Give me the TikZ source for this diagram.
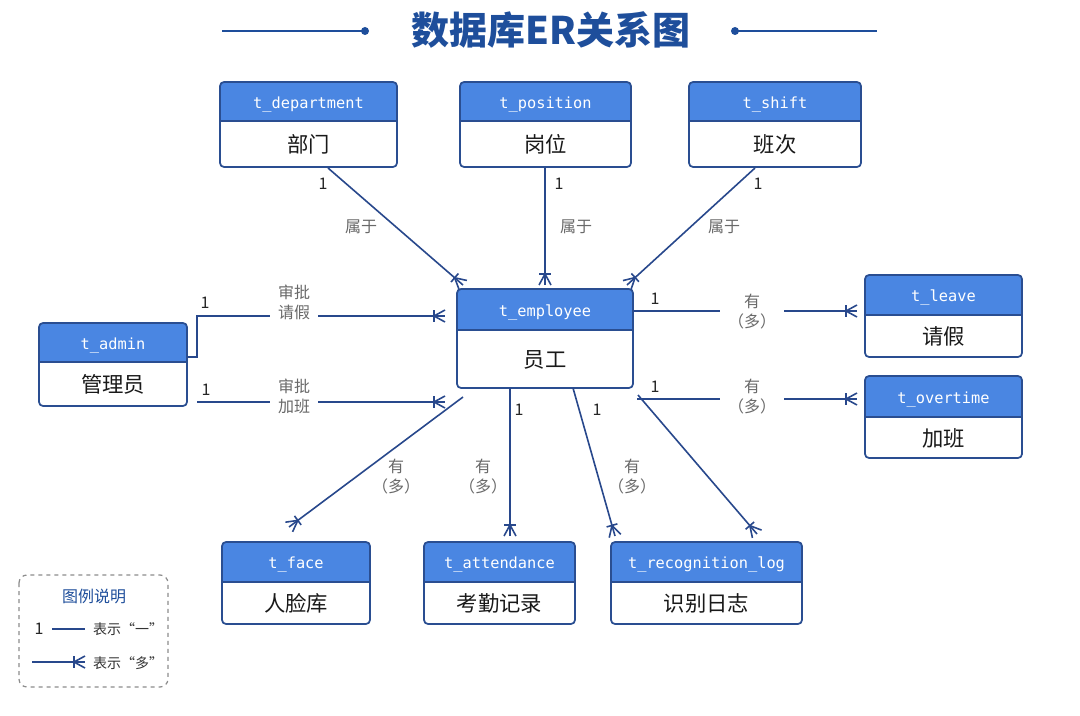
\documentclass[tikz,border=0pt]{standalone}
\usepackage{fontspec}
\setmainfont{Noto Sans CJK SC}
\newfontfamily\monof{DejaVu Sans Mono}
\usetikzlibrary{calc,fit}
\definecolor{hdr}{RGB}{74,134,226}
\definecolor{bd}{RGB}{42,78,145}
\definecolor{ln}{RGB}{40,72,140}
\definecolor{ttl}{RGB}{30,78,155}
\definecolor{gr}{RGB}{105,105,105}
\definecolor{lgd}{RGB}{140,140,140}
\tikzset{
 conn/.style={draw=ln, line width=1.2pt},
 htext/.style={font=\monof\fontsize{11.5}{13}\selectfont, text=white, inner sep=0pt},
 btext/.style={font=\fontsize{16}{18}\selectfont, text=black!90, inner sep=0pt},
 lbl/.style={font=\fontsize{12}{15}\selectfont, text=gr, align=center, inner sep=1pt},
 lblw/.style={lbl, fill=white, inner xsep=6pt},
 one/.style={font=\fontsize{12}{14}\selectfont, text=black!85, inner sep=0pt},
 ebox/.style={draw=bd, line width=1.3pt, rounded corners=3pt, inner sep=0pt},
}
\newcommand\entity[8]{%
 \fill[white, rounded corners=3pt] (#2,#3) rectangle (#4,#5);
 \fill[hdr, rounded corners=3pt] (#2,#3) rectangle (#4,#6);
 \fill[hdr] (#2,#6-8) rectangle (#4,#6);
 \draw[bd, line width=1.1pt] (#2,#6) -- (#4,#6);
 \node[ebox, fit={(#2,#3)(#4,#5)}] (#1) {};
 \node[htext] (#1-t) at ({(#2+#4)/2},{(#3+#6)/2+2.5}) {#7};
 \node[btext] (#1-l) at ({(#2+#4)/2},{(#6+#5)/2+0.5}) {#8};
}
\newcommand\crow[2]{%
 \coordinate (cfa) at ($(#2)!8.25pt!(#1)$);
 \draw[conn] ($(cfa)!4.2pt!90:(#1)$) -- ($(cfa)!4.2pt!-90:(#1)$);
 \draw[conn] ($(#2)!4.5pt!90:(#1)$) -- (cfa) -- ($(#2)!4.5pt!-90:(#1)$);
}
\begin{document}
\begin{tikzpicture}[x=0.75pt,y=-0.75pt]
\useasboundingbox (0,0) rectangle (1080,716);
\fill[white] (0,0) rectangle (1080,716);

% title
\node[font=\bfseries\fontsize{28.5}{32}\selectfont, text=ttl] (title) at (551,30) {数据库ER关系图};
\coordinate (tl1) at (222,31); \coordinate (tl2) at (365,31);
\coordinate (tr1) at (735,31); \coordinate (tr2) at (877,31);
\draw[ttl, line width=1.2pt] (tl1) -- (tl2);
\draw[ttl, line width=1.2pt] (tr1) -- (tr2);
\fill[ttl] (tl2) circle (4);
\fill[ttl] (tr1) circle (4);

% entities
\entity{dept}{220}{82}{397}{167}{121}{t\_department}{部门}
\entity{pos}{460}{82}{631}{167}{121}{t\_position}{岗位}
\entity{shift}{689}{82}{861}{167}{121}{t\_shift}{班次}
\entity{emp}{457}{289}{633}{388}{330}{t\_employee}{员工}
\entity{admin}{39}{323}{187}{406}{362}{t\_admin}{管理员}
\entity{leave}{865}{275}{1022}{357}{315}{t\_leave}{请假}
\entity{ot}{865}{376}{1022}{458}{417}{t\_overtime}{加班}
\entity{face}{222}{542}{370}{624}{582}{t\_face}{人脸库}
\entity{att}{424}{542}{575}{624}{582}{t\_attendance}{考勤记录}
\entity{rec}{611}{542}{802}{624}{582}{t\_recognition\_log}{识别日志}

% connector end points
\coordinate (c1a) at (328,168); \coordinate (c1b) at (463,285);
\coordinate (c2a) at (545,168); \coordinate (c2b) at (545,285);
\coordinate (c3a) at (755,168); \coordinate (c3b) at (627,285);
\coordinate (c4a) at (187,357); \coordinate (c4k) at (197,316); \coordinate (c4b) at (445,316);
\coordinate (c5a) at (197,402); \coordinate (c5b) at (445,402);
\coordinate (c6a) at (633,311); \coordinate (c6b) at (857,311);
\coordinate (c7a) at (637,399); \coordinate (c7b) at (857,399);
\coordinate (c8a) at (463,397); \coordinate (c8b) at (289,527);
\coordinate (c9a) at (510,388); \coordinate (c9b) at (510,536);
\coordinate (c10a) at (573,388); \coordinate (c10b) at (615,536);
\coordinate (c11a) at (638,395); \coordinate (c11b) at (757,534);

\draw[conn] (c1a) -- (c1b); \crow{c1a}{c1b}
\draw[conn] (c2a) -- (c2b); \crow{c2a}{c2b}
\draw[conn] (c3a) -- (c3b); \crow{c3a}{c3b}
\draw[conn] (c4a) -| (c4k) -- (c4b); \crow{c4k}{c4b}
\draw[conn] (c5a) -- (c5b); \crow{c5a}{c5b}
\draw[conn] (c6a) -- (c6b); \crow{c6a}{c6b}
\draw[conn] (c7a) -- (c7b); \crow{c7a}{c7b}
\draw[conn] (c8a) -- (c8b); \crow{c8a}{c8b}
\draw[conn] (c9a) -- (c9b); \crow{c9a}{c9b}
\draw[conn] (c10a) -- (c10b); \crow{c10a}{c10b}
\draw[conn] (c11a) -- (c11b); \crow{c11a}{c11b}

% labels
\node[one] (n1) at (323,184) {1};
\node[one] (n2) at (559,184) {1};
\node[one] (n3) at (758,184) {1};
\node[lbl] (l1) at (361,227) {属于};
\node[lbl] (l2) at (576,227) {属于};
\node[lbl] (l3) at (724,227) {属于};
\node[one] (n4) at (205,303) {1};
\node[one] (n5) at (206,390) {1};
\node[lblw] (l4) at (294,302) {审批\\请假};
\node[lblw] (l5) at (294,396) {审批\\加班};
\node[one] (n6) at (655,299) {1};
\node[one] (n7) at (655,387) {1};
\node[lblw] (l6) at (752,312) {有\\（多）};
\node[lblw] (l7) at (752,397) {有\\（多）};
\node[one] (n8) at (519,410) {1};
\node[one] (n9) at (597,410) {1};
\node[lbl] (l8) at (396,477) {有\\（多）};
\node[lbl] (l9) at (483,477) {有\\（多）};
\node[lbl] (l10) at (632,477) {有\\（多）};

% legend
\draw[lgd, dashed, line width=0.9pt, rounded corners=6pt] (19,575) rectangle (168,687);
\node[font=\fontsize{12}{14}\selectfont, text=ttl] (lgt) at (94,596) {图例说明};
\node[one] (lg1) at (39,629) {1};
\coordinate (lga) at (52,629); \coordinate (lgb) at (85,629);
\draw[conn] (lga) -- (lgb);
\node[font=\fontsize{10.5}{12}\selectfont, text=black!80] (lgx1) at (128,629) {表示“一”};
\coordinate (lgc) at (32,662); \coordinate (lgd) at (85,662);
\draw[conn] (lgc) -- (lgd); \crow{lgc}{lgd}
\node[font=\fontsize{10.5}{12}\selectfont, text=black!80] (lgx2) at (128,663) {表示“多”};
\end{tikzpicture}
\end{document}
